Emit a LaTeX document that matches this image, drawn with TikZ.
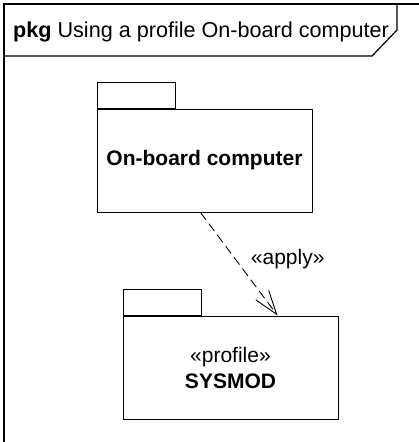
\documentclass[tikz,border=0pt]{standalone}
\usepackage{fontspec}
\setmainfont{Liberation Sans}
\usepackage{tikz}
\usetikzlibrary{positioning,arrows.meta}

\begin{document}
\begin{tikzpicture}[x=1pt, y=-1pt,
    pkg/.style={rectangle, draw, line width=1pt, minimum width=215pt, minimum height=103pt, align=center, font=\fontsize{21}{26}\selectfont},
    tab/.style={rectangle, draw, line width=1pt, minimum width=78pt, minimum height=26pt, inner sep=0pt, anchor=south west},
    lbl/.style={font=\fontsize{21}{26}\selectfont}]

    \useasboundingbox (0,0) rectangle (419,442);

    % frame and heading
    \draw [line width=1.4pt] (4,442) -- (4,4) -- (419,4);
    \draw [line width=1.2pt] (4,56) -- (372,56) -- (397,30) -- (397,4);
    \node [lbl, font=\fontsize{21.6}{26}\selectfont, anchor=base west, inner sep=0pt] (title) at (13,37) {\textbf{pkg} Using a profile On-board computer};

    % packages
    \node [pkg] (obc) at (204.5,160.5) {\textbf{On-board computer}};
    \node [tab] (obctab) at (obc.north west) {};
    \node [pkg] (sysmod) at (230.5,367.5) {«profile»\\\textbf{SYSMOD}};
    \node [tab] (sysmodtab) at (sysmod.north west) {};

    \draw [dash pattern=on 9pt off 5pt, line width=0.9pt, -{Straight Barb[length=24pt, width=16pt, line width=0.9pt]}]
        ([xshift=104pt]obc.south west) -- node [lbl, pos=0.45, right=12pt] (apply) {«apply»} ([xshift=155pt]sysmod.north west);
\end{tikzpicture}
\end{document}
